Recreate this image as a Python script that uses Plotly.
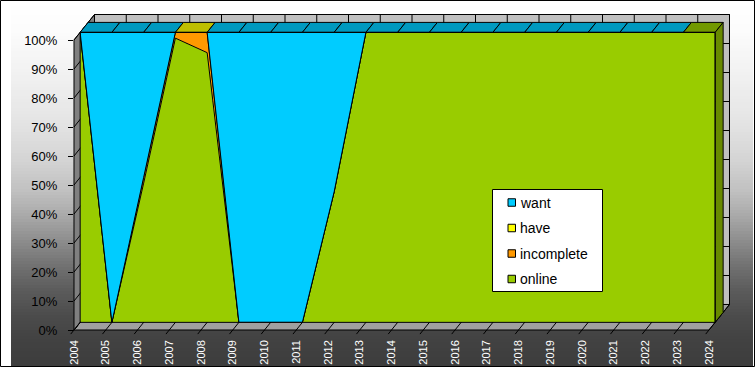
import plotly.graph_objects as go

# ---------------- data ----------------
years = [2004, 2005, 2006, 2007, 2008, 2009, 2010, 2011, 2012, 2013, 2014,
         2015, 2016, 2017, 2018, 2019, 2020, 2021, 2022, 2023, 2024]
year_labels = [str(y) for y in years]

online     = [100, 0, 48, 98, 93, 0, 0, 0, 45, 100, 100,
              100, 100, 100, 100, 100, 100, 100, 100, 100, 100]
incomplete = [0, 0, 2, 2, 7, 0, 0, 0, 0, 0, 0,
              0, 0, 0, 0, 0, 0, 0, 0, 0, 0]
have       = [0, 0, 0, 0, 0, 0, 0, 0, 0, 0, 0,
              0, 0, 0, 0, 0, 0, 0, 0, 0, 0]
want       = [0, 100, 50, 0, 0, 100, 100, 100, 55, 0, 0,
              0, 0, 0, 0, 0, 0, 0, 0, 0, 0]

pct_ticks = [0, 10, 20, 30, 40, 50, 60, 70, 80, 90, 100]
pct_labels = [f"{v}%" for v in pct_ticks]

# series from bottom to top of the stack
series_names = ["online", "incomplete", "have", "want"]
series_values = {"online": online, "incomplete": incomplete, "have": have, "want": want}
series_colors = {"online": "#99CC00", "incomplete": "#FF9900", "have": "#FFFF00", "want": "#00CCFF"}
# series whose top face is shown on the 3-D roof for each year segment
top_face = ["want", "want", "want", "have", "want", "want", "want", "want", "want", "want",
            "want", "want", "want", "want", "want", "want", "want", "want", "want", "online"]

# ---------------- geometry (pixels) ----------------
W, H = 755, 367
FX0, FX1 = 74.0, 709.0     # front plane x of first / last year
FY0, FY1 = 330.0, 40.0     # front plane y of 0% / 100%
DX, DY = 20.5, -25.5       # full depth vector
Z1, Z2 = 0.30, 0.69        # depth of series front / back faces
FONT = "Arial, Liberation Sans, sans-serif"


def P(year, pct, z):
    px = FX0 + (year - years[0]) / (years[-1] - years[0]) * (FX1 - FX0) + z * DX
    py = FY0 - pct / 100.0 * (FY0 - FY1) + z * DY
    return px / W, 1 - py / H


def path(pts):
    return "M " + " L ".join(f"{x:.5f},{y:.5f}" for x, y in pts) + " Z"


def shade(hexcol, f=0.75):
    r, g, b = int(hexcol[1:3], 16), int(hexcol[3:5], 16), int(hexcol[5:7], 16)
    return f"rgb({int(r*f)},{int(g*f)},{int(b*f)})"


shapes = []
# gradient background
stops = [(0, 255), (30, 252), (70, 242), (120, 229), (160, 212), (190, 193), (215, 170),
         (240, 142), (265, 114), (290, 92), (315, 76), (340, 66), (367, 60)]


def grey_at(y):
    for (y0, c0), (y1, c1) in zip(stops[:-1], stops[1:]):
        if y0 <= y <= y1:
            return c0 + (c1 - c0) * (y - y0) / (y1 - y0)
    return stops[-1][1]


step = 3
for y in range(0, H, step):
    g = int(round(grey_at(y + step / 2)))
    shapes.append(dict(type="rect", xref="paper", yref="paper", layer="below",
                       x0=11 / W, x1=753 / W, y0=1 - (y + step + 0.5) / H, y1=1 - y / H,
                       fillcolor=f"rgb({g},{g},{g})", line=dict(width=0)))

black = dict(color="black", width=1)
# back wall
shapes.append(dict(type="path", xref="paper", yref="paper", layer="below",
                   path=path([P(years[0], 0, 1), P(years[-1], 0, 1), P(years[-1], 100, 1), P(years[0], 100, 1)]),
                   fillcolor="#C0C0C0", line=black))
for yr in years:
    a, b = P(yr, 0, 1), P(yr, 100, 1)
    shapes.append(dict(type="line", xref="paper", yref="paper", layer="below",
                       x0=a[0], y0=a[1], x1=b[0], y1=b[1], line=black))
for p in pct_ticks:
    a, b = P(years[0], p, 1), P(years[-1], p, 1)
    shapes.append(dict(type="line", xref="paper", yref="paper", layer="below",
                       x0=a[0], y0=a[1], x1=b[0], y1=b[1], line=black))
# floor
shapes.append(dict(type="path", xref="paper", yref="paper", layer="below",
                   path=path([P(years[0], 0, 0), P(years[-1], 0, 0), P(years[-1], 0, 1), P(years[0], 0, 1)]),
                   fillcolor="#A0A0A0", line=black))
for yr in years:
    a, b = P(yr, 0, -0.16), P(yr, 0, 1)
    shapes.append(dict(type="line", xref="paper", yref="paper", layer="below",
                       x0=a[0], y0=a[1], x1=b[0], y1=b[1], line=black))
# left wall
shapes.append(dict(type="path", xref="paper", yref="paper", layer="below",
                   path=path([P(years[0], 0, 0), P(years[0], 0, 1), P(years[0], 100, 1), P(years[0], 100, 0)]),
                   fillcolor="#808080", line=black))
for p in pct_ticks:
    a, b = P(years[0], p, 0), P(years[0], p, 1)
    shapes.append(dict(type="line", xref="paper", yref="paper", layer="below",
                       x0=a[0], y0=a[1], x1=b[0], y1=b[1], line=black))

# roof (top faces)
for i in range(len(years) - 1):
    y0, y1 = years[i], years[i + 1]
    col = shade(series_colors[top_face[i]])
    shapes.append(dict(type="path", xref="paper", yref="paper", layer="above",
                       path=path([P(y0, 100, Z1), P(y1, 100, Z1), P(y1, 100, Z2), P(y0, 100, Z2)]),
                       fillcolor=col, line=black))
# right side faces
cum = 0
for name in series_names:
    v = series_values[name][-1]
    if v > 0:
        shapes.append(dict(type="path", xref="paper", yref="paper", layer="above",
                           path=path([P(years[-1], cum, Z1), P(years[-1], cum + v, Z1),
                                      P(years[-1], cum + v, Z2), P(years[-1], cum, Z2)]),
                           fillcolor=shade(series_colors[name], 0.68), line=black))
    cum += v
# front face outline
fa, fb = P(years[0], 0, Z1), P(years[-1], 100, Z1)
shapes.append(dict(type="rect", xref="paper", yref="paper", layer="above",
                   x0=fa[0], y0=fa[1], x1=fb[0], y1=fb[1], line=black))

# outer border
shapes.append(dict(type="rect", xref="paper", yref="paper", layer="above",
                   x0=0.5 / W, x1=(W - 0.5) / W, y0=0.5 / H, y1=1 - 0.5 / H,
                   line=dict(color="black", width=1)))

# manual legend
LX0, LX1, LY0, LY1 = 492.5, 602.5, 189.5, 291.5
shapes.append(dict(type="rect", xref="paper", yref="paper", layer="above",
                   x0=LX0 / W, x1=LX1 / W, y0=1 - LY1 / H, y1=1 - LY0 / H,
                   fillcolor="white", line=black))
annotations = []
for k, name in enumerate(reversed(series_names)):
    cy = 202.5 + 25.5 * k
    shapes.append(dict(type="rect", xref="paper", yref="paper", layer="above",
                       x0=508 / W, x1=515.5 / W, y0=1 - (cy + 3.75) / H, y1=1 - (cy - 3.75) / H,
                       fillcolor=series_colors[name], line=black))
    annotations.append(dict(xref="paper", yref="paper", x=517.5 / W, y=1 - cy / H,
                            xanchor="left", yanchor="middle", text=name, showarrow=False,
                            font=dict(family=FONT, size=14, color="black")))

# ---------------- traces ----------------
fig = go.Figure()
for name in series_names:
    fig.add_trace(go.Scatter(
        x=years, y=series_values[name], name=name, mode="lines",
        stackgroup="one", groupnorm="percent",
        line=dict(color="black", width=1), fillcolor=series_colors[name],
        hoverinfo="skip", showlegend=False, xaxis="x", yaxis="y"))
# invisible trace that carries the front-plane axes (tick labels)
fig.add_trace(go.Scatter(x=years, y=online, mode="lines", line=dict(width=0),
                         opacity=0, hoverinfo="skip", showlegend=False,
                         xaxis="x2", yaxis="y2"))

front_x0 = P(years[0], 0, Z1)[0]
front_x1 = P(years[-1], 0, Z1)[0]
front_y0 = P(years[0], 0, Z1)[1]
front_y1 = P(years[0], 100, Z1)[1]

fig.update_layout(
    template="none",
    width=W, height=H, autosize=False,
    margin=dict(l=0, r=0, t=0, b=0, pad=0),
    paper_bgcolor="white", plot_bgcolor="rgba(0,0,0,0)",
    showlegend=False, hovermode=False,
    xaxis=dict(domain=[front_x0, front_x1], range=[years[0], years[-1]], visible=False,
               automargin=False, fixedrange=True),
    yaxis=dict(domain=[front_y0, front_y1], range=[0, 100], visible=False,
               automargin=False, fixedrange=True),
    xaxis2=dict(domain=[FX0 / W, FX1 / W], anchor="y2", range=[years[0], years[-1]],
                tickmode="array", tickvals=years, ticktext=year_labels, tickangle=-90,
                ticks="", showgrid=False, zeroline=False, showline=False,
                ticklabelstandoff=7, automargin=False,
                tickfont=dict(family=FONT, size=11, color="white"), fixedrange=True),
    yaxis2=dict(domain=[1 - FY0 / H, 1 - FY1 / H], anchor="x2", range=[0, 100],
                tickmode="array", tickvals=pct_ticks, ticktext=pct_labels,
                ticks="outside", ticklen=5, tickcolor="black", tickwidth=1,
                showgrid=False, zeroline=False, showline=False, ticklabelstandoff=8,
                automargin=False,
                tickfont=dict(family=FONT, size=13, color="black"), fixedrange=True),
    shapes=shapes, annotations=annotations,
)

fig.write_html("out.html", config={"displayModeBar": False},
               post_script="document.body.style.margin='0';")
